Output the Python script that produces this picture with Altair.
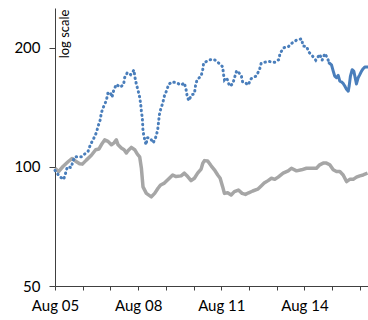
import altair as alt
import pandas as pd

# Hours elapsed since Aug 05 00:00, and index values (log-scaled y axis)
blue_dot_hours = [0, 4, 7.5, 9, 10.7, 14, 15.6, 17, 22.8, 25.6, 28.6, 30.6, 33.4, 35.8, 37.3,
                  39.2, 40.1, 42.1, 44.4, 45.9, 47.9, 49.4, 50.8, 53.1, 56.6, 59.4, 60.3, 62.6,
                  65.5, 68.4, 69, 70.4, 71.9, 73.3, 74.2, 74.8, 75.6, 75.9, 76.2, 77.3, 78.8,
                  80, 81.7, 83.4, 85.1, 87.5, 88.9, 90.4, 91.8, 93.2, 94.7, 96.7, 98.4, 101.4,
                  105.4, 109.2, 112, 113.5, 114.4, 115.8, 118.3, 120.7, 121.6, 123, 126.5,
                  127.9, 128.7, 133.1, 136, 138.9, 141.7, 145.2, 145.8, 146.7, 148.2, 149.5,
                  151, 153.9, 155.6, 157.3, 161.2, 162.5, 164.9, 167.2, 169.8, 174.1, 177,
                  178.5, 180.7, 185.9, 190.3, 193.7, 194.9, 198.1, 201.9, 204.7, 209.1, 213.4,
                  214.9, 217.7, 220.1, 222.9, 225.8, 229.2, 231.3, 233.6, 235.7, 237.4]
blue_dot_values = [98, 94.5, 93, 96, 100, 99.6, 103.5, 106, 106, 107.7, 109.4, 113.7, 117.8, 122,
                   126.6, 131.6, 137, 142, 147, 154, 154, 150, 156, 161.6, 159, 161.6, 168, 173,
                   171, 175.7, 169.6, 162, 156, 150, 144, 138, 133, 128, 123, 118.5, 113.7,
                   118.5, 118.5, 117, 115, 119.4, 124, 135.6, 141, 144.6, 151, 156, 161.6, 164,
                   163, 161, 163, 156.6, 151, 147, 152, 153, 160, 166, 169.6,
                   176, 183, 186, 187, 186, 183, 179, 172, 166, 168, 165.7,
                   160, 162, 168.6, 175, 170.6, 163.7, 163, 161, 167, 169.6, 175.7,
                   182.7, 183.7, 184.5, 183.7, 186.6, 193.7, 200, 201, 205, 209, 210.6,
                   202, 201.4, 194.5, 190.6, 186, 192.5, 186, 193.3, 188.8, 183]

blue_solid_hours = [237.4, 239.4, 240.9, 242.2, 243.7, 245.2, 246.6, 248, 249.5, 250.9, 252.4,
                    253.9, 254.7, 255.8, 257.3, 258.7, 260.2, 261, 262.5, 263.9, 265.4, 266.8,
                    268.2, 270.6]
blue_solid_values = [183, 181, 174.6, 169.6, 168, 170.3, 164.7, 164, 162.5, 160, 157,
                     155.3, 160, 169.6, 176, 174.6, 166.4, 162, 168, 171, 174.6, 177,
                     178.7, 178.7]

gray_hours = [0, 3.1, 6.9, 11.3, 14.7, 17.6, 21.3, 23.7, 27.1, 31.5, 35.2, 38.1, 40.1, 43,
              45.9, 48.8, 51.1, 53.1, 54.6, 57.4, 59.8, 61.8, 63.2, 66.1, 69, 71.3, 73.3,
              74.8, 76.2, 79.1, 83.4, 86.3, 89.2, 91.5, 94.7, 99, 101.9, 104.8, 109.2, 112,
              114.9, 117.8, 120.7, 123.5, 126.5, 127.9, 129.4, 132.2, 135.2, 138, 140.9, 143,
              145.2, 146.7, 149.5, 152.5, 155.3, 158.8, 162, 164.9, 167.7, 171.2, 175.5,
              178.5, 181.1, 184.5, 187.4, 190.3, 193.2, 197.5, 201.9, 204.7, 209.1, 213.4,
              217.7, 222.1, 226.4, 229.2, 232.2, 235, 237.9, 240.9, 243.7, 246.6, 249.5,
              252.4, 255.2, 258.2, 261, 263.9, 266.8, 270.6]
gray_values = [99.2, 97.3, 100.2, 103, 105, 103.5, 101.8, 101.6, 104, 107, 110.5, 111, 113.7, 117,
               116, 113.7, 115, 117, 113.7, 111.6, 110.5, 108.4, 109.8, 112, 110.5, 107.7, 106,
               99.2, 89, 85.7, 84, 85.7, 88.3, 90, 91, 93.6, 95.4, 94.5, 94.9, 96.4,
               94.5, 92.3, 93.6, 96.4, 98.7, 102, 103.7, 103.5, 100.6, 98.3, 95.4, 93.6,
               89, 85.7, 86, 84.9, 86.6, 87.4, 85.7, 85.2, 86, 86.9, 87.8,
               89.5, 91, 92.3, 93.6, 93, 94.2, 96.4, 97.7, 99.2, 97.7, 98.3,
               99.2, 99.2, 99.2, 101.2, 102.2, 102.2, 101.2, 98.3, 97.3, 97.3, 95.4,
               91.8, 93, 93, 94.2, 94.9, 95.4, 96.4]

y_ticks = [50, 100, 200]

START = pd.Timestamp("2015-08-05 00:00:00")


def frame(hours, values):
    return pd.DataFrame({
        "t": [START + pd.Timedelta(hours=h) for h in hours],
        "v": values,
    })


x_enc = alt.X(
    "t:T",
    scale=alt.Scale(domain=[alt.DateTime(year=2015, month=8, date=5),
                            alt.DateTime(year=2015, month=8, date=16, hours=7)]),
    axis=alt.Axis(
        title=None,
        values=[alt.DateTime(year=2015, month=8, date=d) for d in range(5, 17)],
        labelExpr="date(datum.value) % 3 == 2 ? timeFormat(datum.value, '%b %d') : ''",
        tickSize=4,
        labelPadding=8,
        grid=False,
        labelFontSize=15,
        labelColor="#000000",
        domainColor="#404040",
        tickColor="#404040",
        labelFlush=False,
    ),
)
y_enc = alt.Y(
    "v:Q",
    scale=alt.Scale(type="log", domain=[50, 252], nice=False),
    axis=alt.Axis(
        title=None,
        values=y_ticks,
        format="d",
        tickSize=6,
        labelPadding=9,
        grid=False,
        labelFontSize=15,
        labelColor="#000000",
        domainColor="#404040",
        tickColor="#404040",
    ),
)

gray = alt.Chart(frame(gray_hours, gray_values)).mark_line(
    color="#a6a6a6", strokeWidth=3.5, strokeJoin="round"
).encode(x=x_enc, y=y_enc)

blue_dotted = alt.Chart(frame(blue_dot_hours, blue_dot_values)).mark_line(
    color="#4a7ebb", strokeWidth=3, strokeDash=[0.5, 4.2], strokeCap="round"
).encode(x=x_enc, y=y_enc)

blue_solid = alt.Chart(frame(blue_solid_hours, blue_solid_values)).mark_line(
    color="#4a7ebb", strokeWidth=3, strokeJoin="round", strokeCap="round"
).encode(x=x_enc, y=y_enc)

note = alt.Chart(pd.DataFrame({"s": ["log scale"]})).mark_text(
    angle=270, fontSize=13, font="Lato", color="#000000", align="center", baseline="middle"
).encode(text="s:N", x=alt.value(10), y=alt.value(26))

chart = alt.layer(gray, blue_dotted, blue_solid, note).properties(
    width=313,
    height=278,
    autosize=alt.AutoSizeParams(type="none"),
    padding={"left": 55, "top": 8, "right": 0, "bottom": 34},
).configure_axis(
    labelFont="Lato",
).configure_view(stroke=None)

chart.save("out.html", embed_options={"renderer": "svg", "actions": False})
